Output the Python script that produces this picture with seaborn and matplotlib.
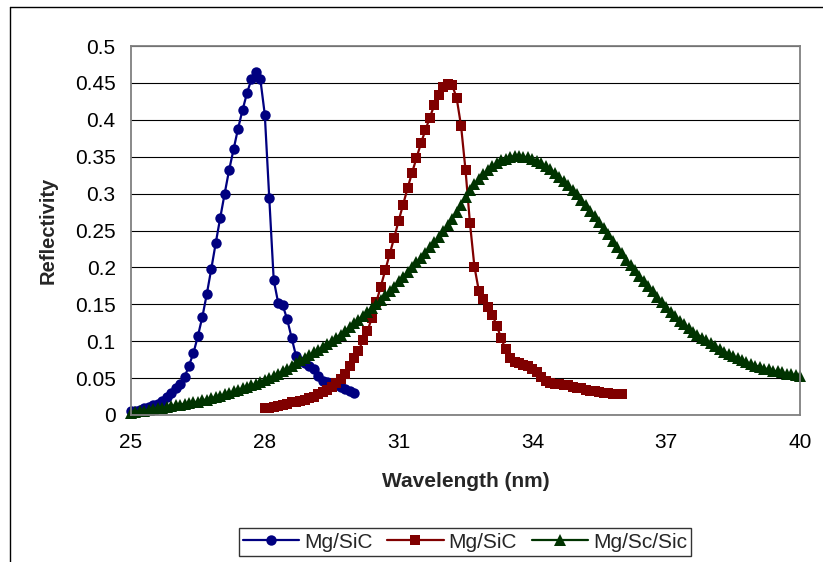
import numpy as np
import pandas as pd
import seaborn as sns
import matplotlib.pyplot as plt
from matplotlib.lines import Line2D
from matplotlib.ticker import FuncFormatter

# --- Data (0.1 nm steps) ---
wl_blue = np.round(np.arange(25.0, 30.05, 0.1), 1)
refl_blue = [
    0.005, 0.006, 0.007, 0.009, 0.011, 0.013, 0.015, 0.019, 0.025, 0.030,
    0.036, 0.042, 0.051, 0.067, 0.084, 0.107, 0.133, 0.164, 0.198, 0.233,
    0.267, 0.300, 0.332, 0.360, 0.388, 0.413, 0.436, 0.455, 0.465, 0.455,
    0.407, 0.294, 0.183, 0.152, 0.149, 0.130, 0.105, 0.080, 0.073, 0.070,
    0.066, 0.062, 0.053, 0.046, 0.045, 0.044, 0.041, 0.038, 0.035, 0.033,
    0.030,
]

wl_red = np.round(np.arange(28.0, 36.05, 0.1), 1)
refl_red = [
    0.009, 0.010, 0.011, 0.012, 0.014, 0.015, 0.017, 0.018, 0.019, 0.021,
    0.023, 0.025, 0.028, 0.031, 0.034, 0.038, 0.043, 0.049, 0.056, 0.067,
    0.077, 0.087, 0.101, 0.114, 0.131, 0.153, 0.174, 0.196, 0.218, 0.240,
    0.263, 0.285, 0.307, 0.328, 0.348, 0.368, 0.386, 0.403, 0.420, 0.434,
    0.445, 0.449, 0.447, 0.430, 0.392, 0.332, 0.260, 0.201, 0.168, 0.157,
    0.147, 0.136, 0.121, 0.104, 0.089, 0.077, 0.072, 0.070, 0.068, 0.066,
    0.063, 0.058, 0.052, 0.046, 0.043, 0.042, 0.042, 0.041, 0.040, 0.038,
    0.037, 0.036, 0.034, 0.033, 0.032, 0.031, 0.030, 0.030, 0.029, 0.029,
    0.029,
]

wl_green = np.round(np.arange(25.0, 40.05, 0.1), 1)
refl_green = [
    0.003, 0.004, 0.005, 0.006, 0.007, 0.008, 0.009, 0.010, 0.011, 0.012,
    0.013, 0.014, 0.015, 0.016, 0.017, 0.018, 0.020, 0.021, 0.023, 0.024,
    0.026, 0.028, 0.030, 0.032, 0.034, 0.036, 0.038, 0.040, 0.042, 0.045,
    0.047, 0.050, 0.053, 0.056, 0.059, 0.062, 0.066, 0.070, 0.074, 0.077,
    0.081, 0.085, 0.088, 0.092, 0.096, 0.100, 0.105, 0.109, 0.114, 0.119,
    0.124, 0.129, 0.134, 0.140, 0.145, 0.150, 0.156, 0.162, 0.168, 0.174,
    0.181, 0.187, 0.194, 0.200, 0.207, 0.213, 0.220, 0.227, 0.234, 0.241,
    0.249, 0.257, 0.266, 0.275, 0.285, 0.295, 0.305, 0.313, 0.320, 0.326,
    0.332, 0.337, 0.341, 0.345, 0.347, 0.349, 0.351, 0.351, 0.350, 0.349,
    0.347, 0.344, 0.341, 0.337, 0.333, 0.328, 0.323, 0.317, 0.311, 0.305,
    0.299, 0.292, 0.285, 0.277, 0.269, 0.261, 0.253, 0.245, 0.236, 0.227,
    0.219, 0.210, 0.203, 0.196, 0.189, 0.182, 0.175, 0.168, 0.160, 0.153,
    0.146, 0.140, 0.134, 0.128, 0.123, 0.118, 0.113, 0.109, 0.105, 0.101,
    0.097, 0.093, 0.090, 0.086, 0.083, 0.080, 0.077, 0.074, 0.072, 0.069,
    0.067, 0.065, 0.063, 0.062, 0.060, 0.059, 0.058, 0.056, 0.055, 0.054,
    0.053,
]

series_labels = ['Mg/SiC', 'Mg/SiC', 'Mg/Sc/Sic']
x_ticks = [25, 28, 31, 34, 37, 40]
y_ticks = np.round(np.arange(0, 0.51, 0.05), 2)

# --- Style ---
sns.set_style('white')
plt.rcParams['font.family'] = ['Liberation Sans', 'DejaVu Sans']

fig = plt.figure(figsize=(8.23, 5.62), dpi=100)
ax = fig.add_axes([131 / 823, 1 - 415 / 562, 669 / 823, 369 / 562])

# --- Curves ---
sns.lineplot(x=wl_blue, y=refl_blue, ax=ax, color='#000080', marker='o',
             markersize=7.5, markeredgewidth=0, linewidth=1.6, label=series_labels[0])
sns.lineplot(x=wl_red, y=refl_red, ax=ax, color='#800000', marker='s',
             markersize=7, markeredgewidth=0, linewidth=1.6, label=series_labels[1])
sns.lineplot(x=wl_green, y=refl_green, ax=ax, color='#003300', marker='^',
             markersize=8, markeredgewidth=0, linewidth=1.6, label=series_labels[2])
for line in ax.lines:
    line.set_clip_on(False)

# --- Axes ---
ax.set_xlim(25, 40)
ax.set_ylim(0, 0.5)
ax.set_xticks(x_ticks)
ax.set_yticks(y_ticks)
ax.yaxis.set_major_formatter(FuncFormatter(lambda v, p: f'{v:g}'))
ax.yaxis.grid(True, color='black', linewidth=0.8)
ax.xaxis.grid(False)
ax.set_axisbelow(True)
for sp in ax.spines.values():
    sp.set_color('#808080')
    sp.set_linewidth(1.3)
ax.tick_params(axis='both', direction='out', length=5, width=1, color='#808080',
               labelsize=15, labelcolor='black')
ax.tick_params(axis='x', pad=8)
ax.tick_params(axis='y', pad=6)

ax.set_xlabel('Wavelength (nm)', fontsize=15, fontweight='bold')
ax.set_ylabel('Reflectivity', fontsize=14.5, fontweight='bold')
ax.xaxis.set_label_coords(0.5, -0.155)
ax.yaxis.set_label_coords(-0.109, 0.5)

# --- Legend below the plot ---
handles, labels = ax.get_legend_handles_labels()
ax.get_legend().remove()
leg = fig.legend(handles, labels, loc='center', bbox_to_anchor=(465 / 823, 1 - 542 / 562),
                 ncol=3, fontsize=15, frameon=True, fancybox=False, handlelength=2.7,
                 handletextpad=0.25, columnspacing=0.7, borderpad=0.2, borderaxespad=0)
leg.get_frame().set_edgecolor('black')
leg.get_frame().set_linewidth(1)

# --- Outer chart frame (left and top edges visible) ---
fx = 10 / 823
fy = 1 - 7 / 562
fig.add_artist(Line2D([fx, 1], [fy, fy], color='black', linewidth=1, transform=fig.transFigure))
fig.add_artist(Line2D([fx, fx], [0, fy], color='black', linewidth=1, transform=fig.transFigure))

fig.savefig('out.png', dpi=100)
